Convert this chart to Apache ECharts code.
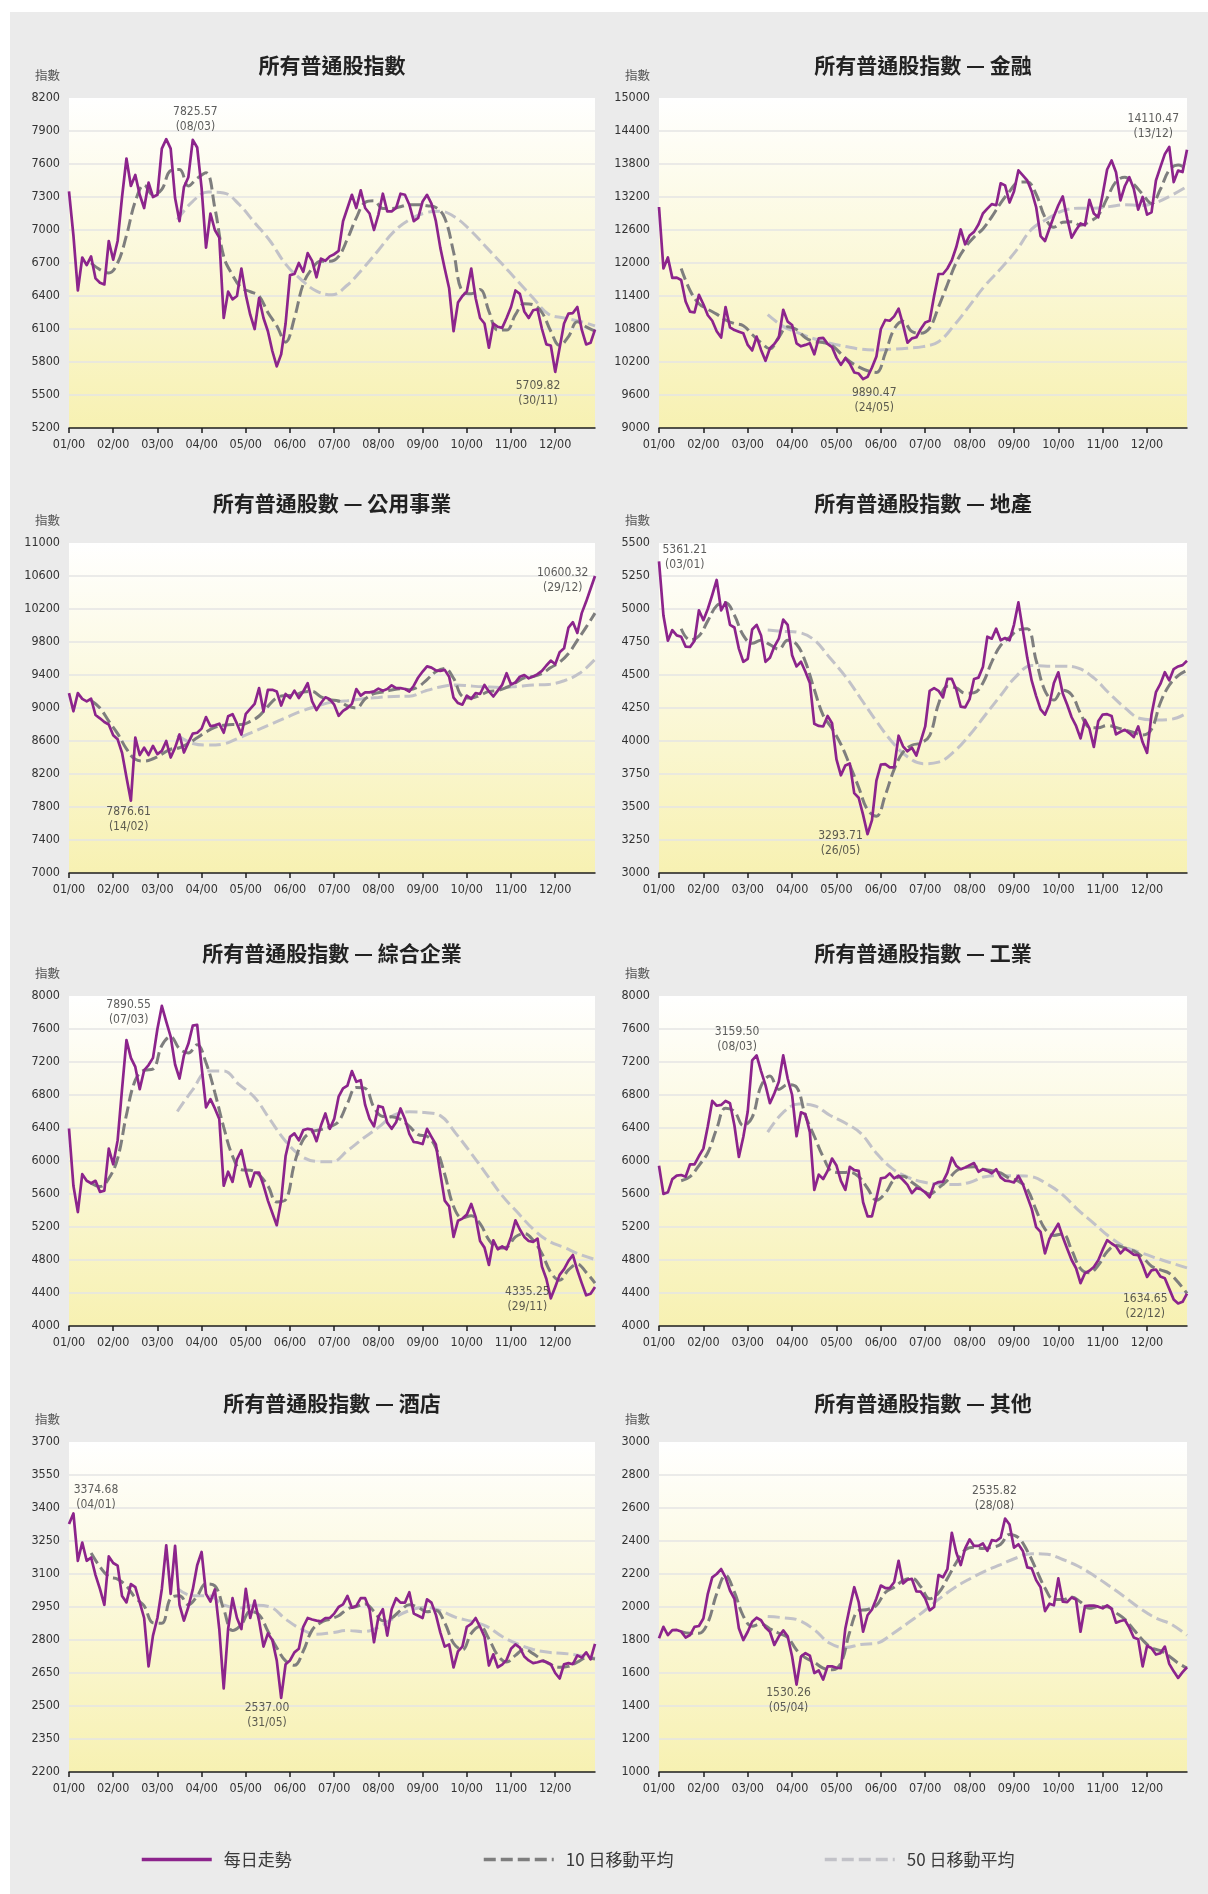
<!DOCTYPE html>
<html><head><meta charset="utf-8">
<script src="https://cdn.jsdelivr.net/npm/echarts@6/dist/echarts.min.js"></script>
<style>
html,body{margin:0;padding:0;background:#ffffff;}
#bg{position:absolute;left:10px;top:12px;width:1198px;height:1882px;background:#ebebeb;}
#c{position:absolute;left:0;top:0;width:1208px;height:1894px;}
</style></head><body>
<div id="bg"></div><div id="c"></div>
<script>
// ---------- tick labels / categories ----------
const monthLabels = ['01/00','02/00','03/00','04/00','05/00','06/00','07/00','08/00','09/00','10/00','11/00','12/00'];
const titles = ['所有普通股指數','所有普通股指數 — 金融','所有普通股數 — 公用事業','所有普通股指數 — 地產',
  '所有普通股指數 — 綜合企業','所有普通股指數 — 工業','所有普通股指數 — 酒店','所有普通股指數 — 其他'];
const seriesNames = ['每日走勢','10 日移動平均','50 日移動平均'];
const yMin  = [5200, 9000, 7000, 3000, 4000, 4000, 2200, 1000];
const yMax  = [8200, 15000, 11000, 5500, 8000, 8000, 3700, 3000];
const yStep = [300, 600, 400, 250, 400, 400, 150, 200];

// ---------- daily values (sampled every 0.1 month from 01/00) ----------
const daily1 = [7352,6950,6450,6750,6680,6760,6560,6520,6505,6900, 6730,6900,7300,7650,7400,7500,7320,7200,7430,7300,
 7320,7740,7826,7740,7290,7080,7390,7480,7820,7750, 7380,6840,7150,7000,6930,6200,6440,6370,6400,6650,
 6410,6230,6100,6380,6200,6080,5900,5760,5870,6150, 6590,6600,6700,6620,6790,6720,6570,6740,6720,6760,
 6780,6810,7080,7200,7320,7200,7360,7200,7150,7000, 7140,7330,7170,7170,7200,7330,7320,7230,7080,7110,
 7260,7320,7240,7080,6840,6650,6470,6080,6340,6400, 6440,6650,6380,6200,6150,5930,6150,6120,6110,6200,
 6300,6450,6420,6260,6200,6270,6280,6100,5960,5950, 5710,5930,6150,6240,6245,6300,6094,5960,5975,6094];
const daily2 = [13018,11900,12100,11730,11735,11690,11300,11115,11100,11420, 11250,11050,10950,10760,10644,11200,10830,10780,10750,10722,
 10511,10410,10662,10420,10221,10450,10530,10640,11150,10934, 10873,10540,10485,10511,10541,10340,10632,10640,10530,10470,
 10280,10148,10269,10170,10010,9990,9890,9930,10100,10300, 10800,10964,10950,11030,11170,10880,10550,10630,10650,10800,
 10920,10950,11400,11800,11800,11900,12050,12290,12610,12340, 12500,12565,12700,12900,12988,13070,13050,13450,13411,13100,
 13300,13683,13592,13500,13300,13018,12490,12400,12626,12850, 13050,13210,12807,12460,12600,12720,12686,13150,12900,12830,
 13250,13700,13864,13650,13139,13400,13560,13351,12970,13200, 12880,12920,13500,13743,13980,14110,13471,13680,13653,14060];
const daily3 = [9181,8960,9180,9110,9080,9112,8915,8875,8830,8800, 8670,8620,8458,8160,7877,8640,8430,8518,8430,8540,
 8440,8480,8600,8400,8520,8679,8460,8580,8690,8700, 8750,8890,8779,8790,8810,8700,8900,8925,8810,8679,
 8930,8990,9050,9241,8960,9220,9220,9200,9030,9170, 9120,9210,9120,9200,9300,9080,8975,9060,9130,9105,
 9040,8905,8965,9000,9050,9230,9150,9190,9190,9201, 9235,9210,9230,9275,9240,9241,9230,9200,9270,9370,
 9442,9505,9490,9455,9450,9462,9380,9125,9060,9040, 9150,9110,9181,9170,9280,9201,9140,9210,9281,9422,
 9285,9310,9380,9400,9360,9381,9410,9450,9515,9575, 9530,9675,9723,9975,10040,9910,10150,10290,10446,10600];
const daily4 = [5361,4950,4760,4840,4800,4790,4715,4712,4760,4990, 4915,5000,5106,5220,4990,5050,4880,4860,4700,4600,
 4623,4845,4880,4800,4600,4630,4715,4775,4920,4880, 4650,4565,4600,4525,4440,4130,4114,4110,4190,4135,
 3860,3740,3815,3830,3605,3570,3440,3294,3400,3700, 3822,3825,3800,3800,4040,3960,3922,3949,3890,4000,
 4110,4380,4400,4380,4330,4470,4470,4390,4260,4255, 4317,4470,4480,4560,4790,4775,4851,4763,4780,4763,
 4880,5050,4840,4630,4457,4340,4240,4200,4280,4440, 4520,4360,4275,4180,4114,4020,4160,4095,3955,4150,
 4200,4203,4190,4050,4070,4085,4060,4030,4110,3990, 3910,4200,4370,4432,4521,4460,4545,4565,4575,4608];
const daily5 = [6394,5700,5380,5840,5760,5730,5760,5626,5640,6150, 5960,6250,6870,7466,7250,7140,6870,7100,7163,7250,
 7600,7880,7690,7507,7170,7000,7280,7420,7640,7650, 7142,6650,6750,6637,6510,5700,5870,5747,6020,6130,
 5880,5690,5860,5860,5706,5520,5370,5222,5520,6060, 6293,6334,6250,6374,6390,6380,6240,6430,6576,6390,
 6510,6780,6880,6915,7090,6960,6980,6680,6510,6420, 6667,6650,6465,6390,6470,6637,6510,6330,6230,6222,
 6205,6390,6293,6200,5850,5520,5450,5080,5275,5302, 5350,5480,5320,5030,4950,4740,5039,4930,4965,4930,
 5080,5280,5170,5080,5030,5020,5059,4720,4570,4335, 4473,4620,4690,4790,4860,4675,4520,4372,4390,4473];
const daily6 = [5943,5600,5620,5780,5822,5830,5810,5960,5960,6060, 6150,6420,6728,6670,6680,6728,6700,6430,6050,6290,
 6600,7220,7280,7090,6920,6700,6820,6960,7280,7000, 6800,6300,6590,6567,6350,5650,5835,5782,5880,6030,
 5945,5760,5650,5930,5890,5880,5500,5330,5330,5550, 5790,5800,5850,5790,5822,5770,5710,5610,5670,5660,
 5620,5560,5720,5745,5750,5860,6040,5940,5900,5920, 5950,5975,5870,5900,5880,5850,5900,5802,5762,5755,
 5740,5820,5720,5570,5420,5199,5140,4880,5058,5150, 5239,5080,4937,4800,4700,4520,4640,4670,4716,4796,
 4925,5040,5000,4965,4880,4937,4905,4865,4860,4740, 4595,4675,4685,4600,4580,4450,4320,4273,4293,4393];
const daily7 = [3327,3375,3160,3243,3160,3175,3095,3032,2960,3180, 3150,3138,3000,2971,3054,3040,2971,2900,2680,2820,
 2900,3032,3230,3010,3228,2960,2888,2950,3030,3140, 3200,3010,2975,3030,2850,2580,2850,2990,2900,2850,
 3032,2900,2979,2888,2770,2830,2800,2707,2537,2690, 2707,2744,2760,2860,2900,2893,2888,2885,2900,2900,
 2920,2950,2962,3000,2947,2955,2990,2990,2940,2790, 2905,2940,2820,2940,2990,2970,2970,3017,2920,2910,
 2900,2985,2970,2915,2835,2770,2780,2675,2748,2770, 2860,2873,2900,2860,2815,2684,2735,2676,2688,2710,
 2760,2780,2765,2725,2707,2695,2699,2705,2700,2690, 2650,2625,2690,2695,2690,2730,2720,2744,2712,2782];
const daily8 = [1811,1880,1830,1860,1861,1851,1815,1830,1880,1885, 1930,2080,2180,2200,2230,2180,2100,2050,1871,1800,
 1850,1911,1935,1920,1875,1850,1770,1821,1858,1822, 1700,1530,1700,1720,1705,1600,1615,1560,1640,1640,
 1632,1629,1870,2000,2120,2030,1850,1950,1985,2052, 2130,2115,2115,2150,2280,2143,2165,2170,2095,2093,
 2052,1980,2000,2194,2180,2230,2450,2330,2254,2355, 2410,2370,2370,2385,2340,2405,2400,2420,2536,2500,
 2360,2380,2340,2240,2234,2163,2120,1975,2020,2010, 2173,2032,2030,2058,2045,1850,2005,2008,2008,2002,
 1992,2010,1990,1905,1915,1921,1875,1815,1805,1640, 1765,1750,1712,1720,1760,1655,1610,1570,1605,1635];

// ---------- 10-day moving average (read every 0.2 month from mid-January) ----------
const ma10_1 = [6700,6640,6610,6700,6950,7260,7410,7320, 7370,7540,7550,7400,7470, 7520,7200,6760,6590,6475,
 6440,6400,6250,6130,5980, 6200,6510,6650,6715,6715, 6760,6920,7110,7250,7265, 7195,7195,7212,7230,7230,
 7220,7205,7109,6800,6440, 6420,6460,6261,6090,6090, 6230,6330,6321,6250,6080, 5950,6030,6165,6120,6080];
const ma10_2 = [11900,11500,11260,11160,11070,10964,10900,10860, 10700,10550,10440,10650,10840, 10790,10640,10571,10555,10500,
 10350,10209,10110,10040,10010, 10360,10800,10940,10753,10722, 10820,11200,11610,12010,12280, 12470,12620,12840,13090,13300,
 13470,13475,13250,12830,12650, 12740,12750,12686,12750,12867, 13180,13480,13560,13430,13250, 13080,13340,13690,13780,13713];
const ma10_3 = [9090,9000,8840,8690,8505,8378,8357,8385, 8440,8500,8518,8570,8639, 8710,8765,8790,8799,8799,
 8837,8903,9020,9125,9150, 9155,9195,9201,9135,9100, 9085,9025,9000,9110,9175, 9195,9218,9233,9222,9255,
 9345,9440,9478,9360,9140, 9120,9155,9201,9212,9250, 9305,9365,9381,9418,9490, 9555,9660,9820,9980,10150];
const ma10_4 = [4850,4765,4795,4910,5025,5048,4953,4800, 4740,4763,4730,4695,4763, 4733,4600,4390,4195,4095,
 3975,3817,3650,3478,3430, 3590,3785,3915,3968,3985, 4040,4280,4415,4402,4362, 4365,4440,4600,4724,4785,
 4841,4850,4610,4380,4310, 4385,4350,4210,4105,4100, 4118,4103,4083,4064,4045, 4089,4290,4422,4495,4535];
const ma10_5 = [5730,5690,5787,6030,6560,6980,7100,7115, 7400,7507,7360,7310,7410, 7190,6830,6410,6060,5895,
 5889,5832,5700,5504,5530, 5969,6260,6354,6380,6414, 6480,6700,6890,6880,6650, 6540,6536,6505,6420,6320,
 6300,6160,5840,5450,5310, 5335,5240,5045,4945,4955, 5080,5120,5040,4877,4650, 4555,4680,4750,4650,4520];
const ma10_6 = [5760,5810,5945,6100,6390,6640,6600,6430, 6530,6909,7030,6868,6925, 6895,6550,6300,6050,5875,
 5860,5863,5810,5670,5525, 5610,5775,5815,5742,5665, 5601,5672,5765,5880,5925, 5930,5900,5883,5855,5790,
 5755,5660,5405,5175,5098, 5117,4920,4695,4645,4736, 4900,4975,4945,4910,4835, 4725,4680,4640,4530,4395];
const ma10_7 = [3195,3133,3088,3077,3045,2992,2955,2878, 2876,2990,3001,2960,3000, 3055,3046,2940,2843,2870,
 2930,2915,2840,2765,2705, 2685,2750,2845,2880,2895, 2910,2941,2952,2964,2930, 2888,2900,2935,2960,2948,
 2928,2935,2878,2785,2755, 2830,2862,2805,2730,2700, 2730,2758,2738,2710,2688, 2676,2680,2699,2718,2714];
const ma10_8 = [1851,1841,1841,1905,2080,2192,2090,1945, 1884,1898,1868,1841,1816, 1740,1692,1665,1629,1619,
 1660,1850,1978,1985,2010, 2088,2120,2160,2175,2123, 2050,2085,2173,2270,2346, 2362,2355,2362,2380,2440,
 2420,2340,2228,2115,2045, 2045,2060,2030,1992,2002, 2002,1965,1925,1862,1800, 1753,1735,1702,1660,1630];

// ---------- 50-day moving average (read every 0.35 month from mid-March) ----------
const ma50_1 = [7094,7261,7345,7337,7232,7066,6900,6690,6550,6444,6412,6500,6650,6816,6985,7092,7155,7170,7112,6990,6840,6690,6535,6382,6235,6200,6170,6128];
const ma50_2 = [11060,10848,10725,10622,10543,10483,10433,10420,10431,10450,10480,10568,10865,11225,11590,11895,12225,12615,12800,12950,12995,12995,13025,13060,13045,13100,13230,13390];
const ma50_3 = [8670,8570,8550,8565,8639,8719,8799,8880,8960,9020,9072,9088,9112,9128,9140,9142,9205,9255,9280,9266,9255,9249,9262,9278,9286,9330,9420,9590];
const ma50_4 = [4840,4831,4822,4765,4630,4490,4320,4150,3995,3880,3828,3840,3920,4045,4195,4345,4490,4572,4567,4567,4552,4478,4360,4252,4170,4160,4165,4212];
const ma50_5 = [6600,6865,7090,7090,6925,6770,6500,6240,6060,5995,5990,6125,6272,6408,6555,6596,6587,6550,6335,6092,5835,5580,5375,5175,5030,4952,4870,4805];
const ma50_6 = [6350,6590,6690,6670,6555,6460,6335,6095,5910,5806,5745,5720,5714,5740,5810,5822,5822,5810,5720,5590,5405,5245,5082,4960,4890,4825,4762,4705];
const ma50_7 = [3035,3001,3001,2960,2945,2958,2950,2895,2850,2826,2833,2843,2838,2858,2900,2934,2949,2933,2903,2885,2862,2816,2782,2757,2744,2739,2730,2717];
const ma50_8 = [1942,1935,1920,1862,1780,1754,1773,1780,1835,1901,1970,2046,2115,2170,2218,2257,2297,2323,2320,2288,2247,2191,2127,2060,1990,1933,1895,1828];

// ---------- annotation texts ----------
const notes1 = ['7825.57\n(08/03)', '5709.82\n(30/11)'];
const notes2 = ['14110.47\n(13/12)', '9890.47\n(24/05)'];
const notes3 = ['10600.32\n(29/12)', '7876.61\n(14/02)'];
const notes4 = ['5361.21\n(03/01)', '3293.71\n(26/05)'];
const notes5 = ['7890.55\n(07/03)', '4335.25\n(29/11)'];
const notes6 = ['3159.50\n(08/03)', '1634.65\n(22/12)'];
const notes7 = ['3374.68\n(04/01)', '2537.00\n(31/05)'];
const notes8 = ['2535.82\n(28/08)', '1530.26\n(05/04)'];

// ---------- layout (kept apart from the data) ----------
const noteAt = [
  [[2.86, 8003], [10.61, 5512]], [[11.14, 14486], [4.85, 9508]],
  [[11.17, 10546], [1.35, 7655]], [[0.58, 5391], [4.09, 3224]],
  [[1.35, 7806], [10.37, 4318]], [[1.76, 7473], [10.96, 4233]],
  [[0.61, 3449], [4.48, 2459]], [[7.56, 2661], [2.92, 1432]]
];
const DAY_STEP = 0.1, MA10_START = 0.5, MA10_STEP = 0.2, MA50_START = 2.45, MA50_STEP = 0.35, X_MAX = 11.9;
const colLeft = [69, 659], colWidth = [526, 528];
const rowTop = [98, 543, 996, 1442], GRID_H = 330;
const titleY = [65, 503, 953, 1403];
const FONT_NUM = "'Liberation Sans Narrow','Arial Narrow','DejaVu Sans Condensed','Liberation Sans',sans-serif";
const FONT_CJK = "'Noto Sans CJK TC','Noto Sans CJK SC',sans-serif";
const FONT_MIX = "'Liberation Sans Narrow','Noto Sans CJK TC',sans-serif";
const C_DAILY = '#8c248c', C_MA10 = '#7e7e7e', C_MA50 = '#c2c2c8';
const DASH = [12, 5];

const panels = [
  [daily1, ma10_1, ma50_1, notes1], [daily2, ma10_2, ma50_2, notes2],
  [daily3, ma10_3, ma50_3, notes3], [daily4, ma10_4, ma50_4, notes4],
  [daily5, ma10_5, ma50_5, notes5], [daily6, ma10_6, ma50_6, notes6],
  [daily7, ma10_7, ma50_7, notes7], [daily8, ma10_8, ma50_8, notes8]
];

const toXY = (arr, start, step) => arr.map((v, i) => [+(start + i * step).toFixed(3), v]);
const monthTicks = monthLabels.map((_, i) => i);

const grid = [], xAxis = [], yAxis = [], series = [], graphic = [];
panels.forEach((p, k) => {
  const col = k % 2, row = Math.floor(k / 2);
  const left = colLeft[col], top = rowTop[row], width = colWidth[col];
  grid.push({
    left: left, top: top, width: width, height: GRID_H, show: true, borderWidth: 0,
    backgroundColor: {type: 'linear', x: 0, y: 0, x2: 0, y2: 1,
      colorStops: [{offset: 0, color: '#ffffff'}, {offset: 1, color: '#f7f1b2'}]}
  });
  xAxis.push({
    gridIndex: k, type: 'value', min: 0, max: X_MAX, interval: 1,
    axisLine: {show: true, onZero: false, lineStyle: {color: '#1e1e1e', width: 1.5}},
    axisTick: {show: true, length: 5, customValues: monthTicks, lineStyle: {color: '#1e1e1e', width: 1.5}},
    axisLabel: {customValues: monthTicks, formatter: v => monthLabels[Math.round(v)] || '',
      color: '#333', fontSize: 12.5, fontFamily: FONT_NUM, margin: 10},
    splitLine: {show: false}
  });
  yAxis.push({
    gridIndex: k, type: 'value', min: yMin[k], max: yMax[k], interval: yStep[k],
    axisLine: {show: false}, axisTick: {show: false},
    axisLabel: {formatter: v => String(v), color: '#333', fontSize: 12.5, fontFamily: FONT_NUM, margin: 9},
    splitLine: {show: true, showMaxLine: false, showMinLine: false, lineStyle: {color: '#e4e4e4', width: 1.5}}
  });
  series.push({
    name: seriesNames[2], type: 'line', xAxisIndex: k, yAxisIndex: k, data: toXY(p[2], MA50_START, MA50_STEP),
    symbol: 'none', smooth: 0.4, silent: true, z: 2,
    lineStyle: {color: C_MA50, width: 3, type: DASH}, itemStyle: {color: C_MA50}
  });
  series.push({
    name: seriesNames[1], type: 'line', xAxisIndex: k, yAxisIndex: k, data: toXY(p[1], MA10_START, MA10_STEP),
    symbol: 'none', smooth: 0.4, silent: true, z: 3,
    lineStyle: {color: C_MA10, width: 3, type: DASH}, itemStyle: {color: C_MA10}
  });
  series.push({
    name: seriesNames[0], type: 'line', xAxisIndex: k, yAxisIndex: k, data: toXY(p[0], 0, DAY_STEP),
    symbol: 'none', silent: true, z: 4,
    lineStyle: {color: C_DAILY, width: 2.7, join: 'round'}, itemStyle: {color: C_DAILY}
  });
  series.push({
    name: 'notes' + k, type: 'scatter', xAxisIndex: k, yAxisIndex: k, silent: true, z: 5,
    symbolSize: 1, itemStyle: {color: 'rgba(0,0,0,0)'},
    data: p[3].map((t, j) => ({name: t, value: noteAt[k][j]})),
    label: {show: true, position: 'inside', formatter: q => q.name, color: '#333',
      fontSize: 12, lineHeight: 15, fontFamily: FONT_NUM}
  });
  graphic.push({
    type: 'text', x: left + width / 2, y: titleY[row], silent: true,
    style: {text: titles[k], textAlign: 'center', textVerticalAlign: 'middle',
      fontSize: 21, fontWeight: 'bold', fontFamily: FONT_CJK, fill: '#222'}
  });
  graphic.push({
    type: 'text', x: left - 9, y: top - 23, silent: true,
    style: {text: '指數', textAlign: 'right', textVerticalAlign: 'middle',
      fontSize: 12.5, fontFamily: FONT_CJK, fill: '#555'}
  });
});

const legendBase = (name, left) => ({
  data: [name], left: left, top: 1846, itemWidth: 70, itemHeight: 18, selectedMode: false,
  itemStyle: {opacity: 0, color: 'rgba(0,0,0,0)', borderWidth: 0},
  lineStyle: {width: 3.5},
  textStyle: {fontSize: 17, color: '#3a3a3a', fontFamily: FONT_MIX, padding: [0, 0, 0, 7]}
});

const chart = echarts.init(document.getElementById('c'), null, {renderer: 'canvas'});
chart.setOption({
  animation: false,
  backgroundColor: 'transparent',
  grid: grid, xAxis: xAxis, yAxis: yAxis, series: series, graphic: graphic,
  legend: [legendBase(seriesNames[0], 135), legendBase(seriesNames[1], 477), legendBase(seriesNames[2], 818)]
});
</script>
</body></html>
